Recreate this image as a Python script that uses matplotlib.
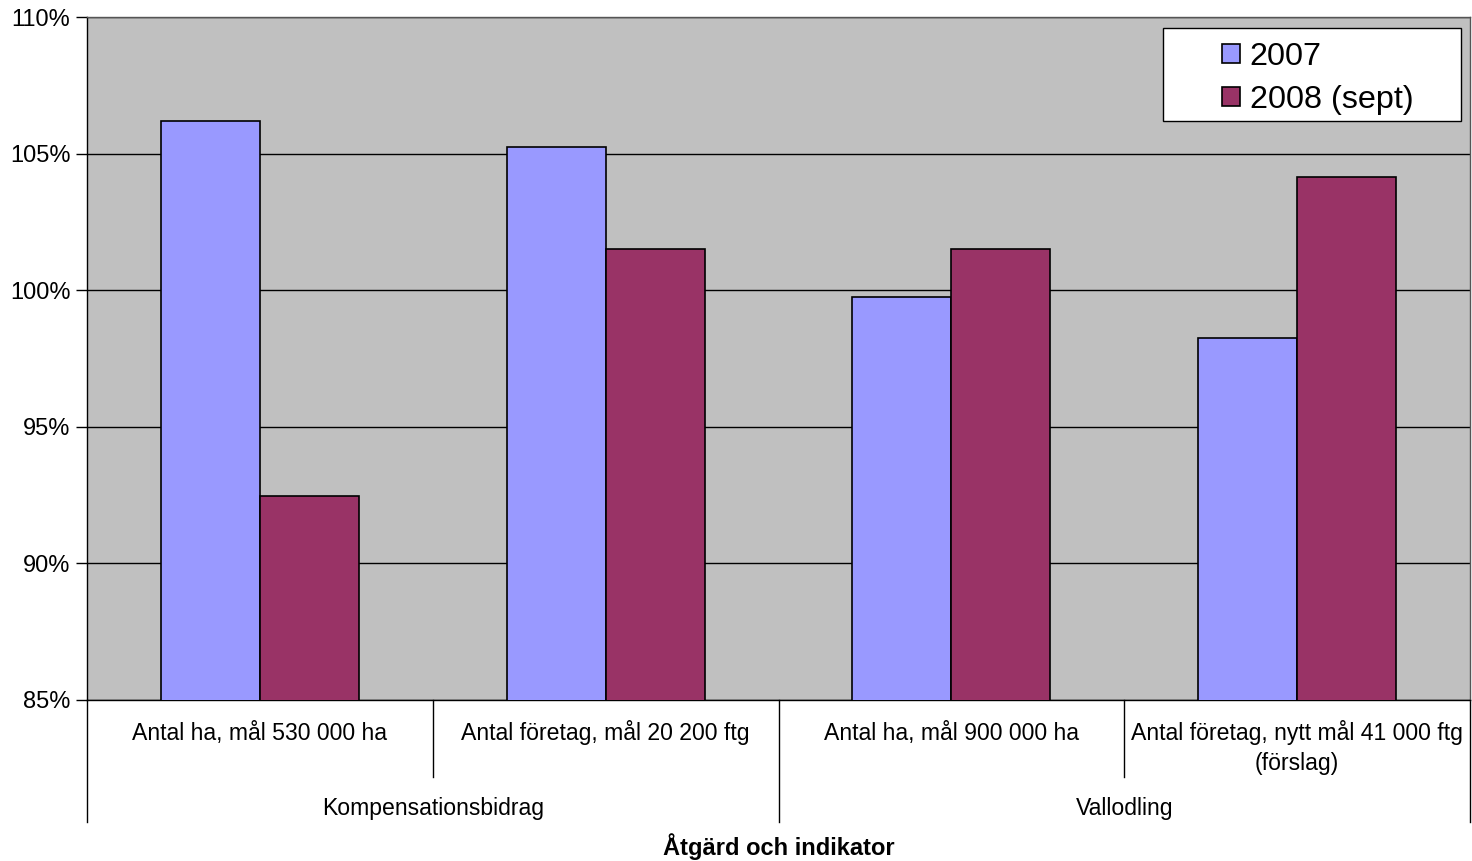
import matplotlib
matplotlib.use("Agg")
import matplotlib.pyplot as plt
import matplotlib.transforms as mtransforms
from matplotlib.patches import Rectangle
from matplotlib.ticker import FuncFormatter
import numpy as np

plt.rcParams['font.family'] = ['Liberation Sans', 'DejaVu Sans']

# データ
categories = ["Antal ha, mål 530 000 ha",
              "Antal företag, mål 20 200 ftg",
              "Antal ha, mål 900 000 ha",
              "Antal företag, nytt mål 41 000 ftg\n(förslag)"]
groups = ["Kompensationsbidrag", "Vallodling"]
series_names = ["2007", "2008 (sept)"]
values_2007 = [106.2, 105.25, 99.75, 98.25]
values_2008 = [92.45, 101.5, 101.5, 104.15]
colors = ["#9999FF", "#993366"]

fig = plt.figure(figsize=(14.72, 8.61), dpi=100)
ax = fig.add_axes([87 / 1472, 1 - 700 / 861, 1383 / 1472, 683 / 861])
ax.set_facecolor("#C0C0C0")

x = np.arange(len(categories))
w = 0.286
b1 = ax.bar(x - w / 2, values_2007, w, color=colors[0], edgecolor="black", linewidth=1.2, zorder=3)
b2 = ax.bar(x + w / 2, values_2008, w, color=colors[1], edgecolor="black", linewidth=1.2, zorder=3)

ax.set_ylim(85, 110)
ax.set_xlim(-0.5, len(categories) - 0.5)
ax.set_yticks(np.arange(85, 111, 5))
ax.yaxis.set_major_formatter(FuncFormatter(lambda v, p: f"{v:.0f}%"))
ax.tick_params(axis="y", labelsize=17, length=8, width=1, direction="out", pad=4)
ax.tick_params(axis="x", bottom=False, labelbottom=False)
ax.grid(axis="y", color="black", linewidth=1, zorder=1)
for s in ax.spines.values():
    s.set_color("#555555")
    s.set_linewidth(1)
ax.spines["bottom"].set_color("black")
ax.spines["left"].set_color("black")

# 階層ラベル
trans = mtransforms.blended_transform_factory(ax.transData, ax.transAxes)
for xb in [0.5, 2.5]:
    ax.plot([xb, xb], [0, -77 / 683], color="black", lw=1, transform=trans, clip_on=False)
for xb in [-0.5, 1.5, 3.5]:
    ax.plot([xb, xb], [0, -122 / 683], color="black", lw=1, transform=trans, clip_on=False)
for i, lab in enumerate(categories):
    for j, line in enumerate(lab.split("\n")):
        ax.text(i, -(40 + 30 * j) / 683, line, transform=trans, ha="center",
                va="baseline", fontsize=16.6)
for g, lab in enumerate(groups):
    ax.text(g * 2 + 0.5, -115 / 683, lab, transform=trans, ha="center",
            va="baseline", fontsize=16.6)
ax.text(0.5, -155 / 683, "Åtgärd och indikator", transform=ax.transAxes,
        ha="center", va="baseline", fontsize=17, fontweight="bold")

# 凡例
ax.add_patch(Rectangle(((1163 - 87) / 1383, (700 - 121) / 683), 298 / 1383, 93 / 683,
                       transform=ax.transAxes, facecolor="white", edgecolor="black",
                       lw=1, zorder=5, clip_on=False))
leg = ax.legend([b1, b2], series_names, loc="upper left",
                bbox_to_anchor=((1222 - 87) / 1383, (700 - 42) / 683),
                frameon=False, fontsize=23.3, handlelength=0.55, handleheight=0.55,
                handletextpad=0.3, labelspacing=0.4, borderpad=0, borderaxespad=0)
leg.set_zorder(6)

fig.savefig("out.png", dpi=100)
